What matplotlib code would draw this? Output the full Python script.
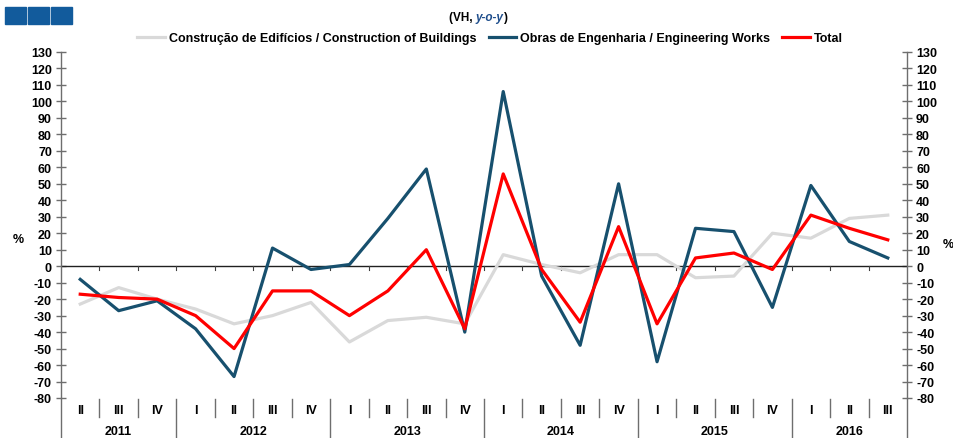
#!/usr/bin/env python3

import matplotlib
matplotlib.use('Agg')
import matplotlib.pyplot as plt
from matplotlib.lines import Line2D
from matplotlib.patches import Rectangle

plt.rcParams['font.family'] = ['Liberation Sans', 'DejaVu Sans']
plt.rcParams['axes.unicode_minus'] = False
NARROW = ['Liberation Sans Narrow', 'Liberation Sans', 'DejaVu Sans']

# 2011 II .. 2016 III
QUARTERS = ['II', 'III', 'IV',
            'I', 'II', 'III', 'IV',
            'I', 'II', 'III', 'IV',
            'I', 'II', 'III', 'IV',
            'I', 'II', 'III', 'IV',
            'I', 'II', 'III']
YEARS = ['2011', '2012', '2013', '2014', '2015', '2016']
YEAR_START = [0, 3, 7, 11, 15, 19]

buildings = [-23, -13, -20, -26, -35, -30, -22, -46, -33, -31, -35, 7,
             1, -4, 7, 7, -7, -6, 20, 17, 29, 31]
engineering = [-8, -27, -21, -38, -67, 11, -2, 1, 29, 59, -40, 106,
               -6, -48, 50, -58, 23, 21, -25, 49, 15, 5]
total = [-17, -19, -20, -30, -50, -15, -15, -30, -15, 10, -38, 56,
         -2, -34, 24, -35, 5, 8, -2, 31, 23, 16]

C_BUILD = '#D9D9D9'
C_ENG = '#17506E'
C_TOTAL = '#FF0000'
C_AXIS = '#6E6E6E'

fig = plt.figure(figsize=(9.54, 4.39), dpi=100)
ax = fig.add_axes([61 / 954, 40 / 439, 846 / 954, 346 / 439])

x = list(range(len(QUARTERS)))
ax.plot(x, buildings, color=C_BUILD, lw=2.3, zorder=3)
ax.plot(x, engineering, color=C_ENG, lw=2.3, zorder=4)
ax.plot(x, total, color=C_TOTAL, lw=2.3, zorder=5)

ax.set_xlim(-0.5, len(QUARTERS) - 0.5)
ax.set_ylim(-80, 130)
ax.set_yticks(range(-80, 131, 10))
ax.set_xticks([])
ax.tick_params(axis='y', which='both', direction='inout', length=7, width=1,
               color=C_AXIS, left=True, right=True, labelleft=True,
               labelright=True, labelsize=9, pad=3)
for lab in ax.get_yticklabels():
    lab.set_fontweight('bold')

for side in ['top', 'bottom']:
    ax.spines[side].set_visible(False)
for side in ['left', 'right']:
    ax.spines[side].set_color(C_AXIS)
    ax.spines[side].set_linewidth(1)

# zero line with small ticks at quarter boundaries
ax.axhline(0, color='#202020', lw=1, zorder=2)
trans = ax.get_xaxis_transform()
y0 = 80 / 210
for k in range(1, len(QUARTERS)):
    ax.plot([k - 0.5, k - 0.5], [y0, y0 - 0.01], color='#404040', lw=0.8,
            transform=trans, clip_on=False)

# category label area below the plot
bottom = -40 / 346
for edge in [-0.5, len(QUARTERS) - 0.5]:
    ax.plot([edge, edge], [0, bottom], color=C_AXIS, lw=1, transform=trans,
            clip_on=False)
for k in range(1, len(QUARTERS)):
    low = bottom if k in YEAR_START else -0.055
    ax.plot([k - 0.5, k - 0.5], [-0.003, low], color=C_AXIS, lw=1,
            transform=trans, clip_on=False)
for i, q in enumerate(QUARTERS):
    ax.text(i, -0.035, q, transform=trans, ha='center', va='center',
            fontsize=9, fontweight='bold')
ends = YEAR_START[1:] + [len(QUARTERS)]
for yr, s, e in zip(YEARS, YEAR_START, ends):
    ax.text((s + e - 1) / 2, -0.095, yr, transform=trans, ha='center',
            va='center', fontsize=9, fontweight='bold')

fig.text(18 / 954, 1 - 240 / 439, '%', ha='center', va='center',
         fontsize=9, fontweight='bold')
fig.text(948 / 954, 1 - 245 / 439, '%', ha='center', va='center',
         fontsize=9, fontweight='bold')

# logo squares
for x0 in [5, 28, 51]:
    fig.patches.append(Rectangle((x0 / 954, 1 - 25 / 439), 21 / 954, 17 / 439,
                                 transform=fig.transFigure, color='#125B9C'))

# subtitle: (VH, y-o-y)
t1 = fig.text(449 / 954, 1 - 18 / 439, '(VH, ', ha='left', va='center',
              fontsize=8.5, fontweight='bold', family=NARROW)
ann = ax.annotate('y-o-y', xy=(1, 0), xycoords=t1, ha='left', va='bottom',
                  fontsize=8.5, fontweight='bold', style='italic',
                  color='#1F4E8C', family=NARROW)
ax.annotate(')', xy=(1, 0), xycoords=ann, ha='left', va='bottom',
            fontsize=8.5, fontweight='bold', family=NARROW)

handles = [Line2D([], [], color=C_BUILD, lw=2.3),
           Line2D([], [], color=C_ENG, lw=2.3),
           Line2D([], [], color=C_TOTAL, lw=2.3)]
labels = ['Construção de Edifícios / Construction of Buildings',
          'Obras de Engenharia / Engineering Works',
          'Total']
fig.legend(handles, labels, loc='center', bbox_to_anchor=(490 / 954, 1 - 39 / 439),
           ncol=3, frameon=False, handlelength=2.2, handletextpad=0.3,
           columnspacing=1.0, prop={'family': NARROW, 'weight': 'bold', 'size': 9})

fig.savefig('out.png', dpi=100)
